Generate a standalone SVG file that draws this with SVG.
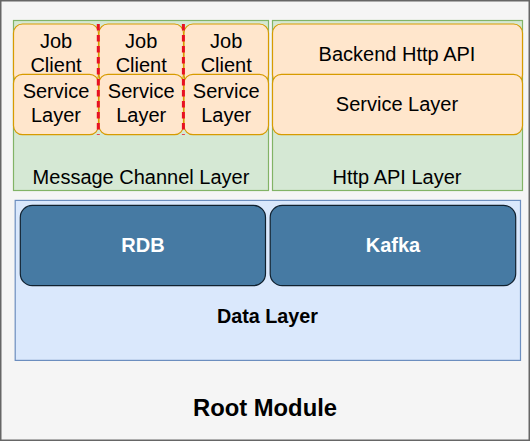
<svg xmlns="http://www.w3.org/2000/svg" width="531" height="441" viewBox="0 0 531 441">
<style>
text{font-family:"Liberation Sans",Arial,Helvetica,sans-serif;text-anchor:middle;fill:#000}
.t{font-size:20px}
.b{font-size:19.8px;font-weight:bold}
.w{font-size:20px;font-weight:bold;fill:#fff}
.g{fill:#d5e8d4;stroke:#82b366;stroke-width:1.2}
.o{fill:#ffe6cc;stroke:#d79b00;stroke-width:1.2}
.bl{fill:#dae8fc;stroke:#6c8ebf;stroke-width:1.2}
.db{fill:#467aa3;stroke:#10212f;stroke-width:1.2}
.red{stroke:#e81123;stroke-width:3;stroke-dasharray:6.5 4.5;fill:none}
</style>
<g id="root">
<rect x="0.75" y="0.75" width="528.5" height="439.5" fill="#f5f5f5" stroke="#666" stroke-width="1.5"/>
<text class="b" x="265" y="415.5" style="font-size:23.8px">Root Module</text>
</g>
<g id="message-channel-layer">
<rect class="g" x="13.5" y="20.5" width="255" height="170"/>
<text class="t" x="141" y="184.3">Message Channel Layer</text>
</g>
<g id="http-api-layer">
<rect class="g" x="272.5" y="20.5" width="250" height="170"/>
<text class="t" x="397" y="184">Http API Layer</text>
</g>
<g id="job-client-1">
<rect class="o" x="13.5" y="24" width="85" height="60" rx="9"/>
<text class="t" x="56" y="48.3">Job</text>
<text class="t" x="56" y="72.3">Client</text>
</g>
<g id="job-client-2">
<rect class="o" x="99" y="24" width="84.5" height="60" rx="9"/>
<text class="t" x="141.2" y="48.3">Job</text>
<text class="t" x="141.2" y="72.3">Client</text>
</g>
<g id="job-client-3">
<rect class="o" x="184" y="24" width="84.5" height="60" rx="9"/>
<text class="t" x="226.2" y="48.3">Job</text>
<text class="t" x="226.2" y="72.3">Client</text>
</g>
<g id="service-layer-1">
<rect class="o" x="13.5" y="74.3" width="85" height="60.4" rx="9"/>
<text class="t" x="56" y="98.3">Service</text>
<text class="t" x="56" y="122.3">Layer</text>
</g>
<g id="service-layer-2">
<rect class="o" x="99" y="74.3" width="84.5" height="60.4" rx="9"/>
<text class="t" x="141.2" y="98.3">Service</text>
<text class="t" x="141.2" y="122.3">Layer</text>
</g>
<g id="service-layer-3">
<rect class="o" x="184" y="74.3" width="84.5" height="60.4" rx="9"/>
<text class="t" x="226.2" y="98.3">Service</text>
<text class="t" x="226.2" y="122.3">Layer</text>
</g>
<g id="backend-http-api">
<rect class="o" x="272.5" y="24" width="250" height="60" rx="9"/>
<text class="t" x="397" y="61">Backend Http API</text>
</g>
<g id="http-service-layer">
<rect class="o" x="272.5" y="74.3" width="250" height="60.4" rx="9"/>
<text class="t" x="397" y="111">Service Layer</text>
</g>
<g id="connectors">
<line class="red" x1="98.3" y1="24" x2="98.3" y2="134.7"/>
<line class="red" x1="183.4" y1="24" x2="183.4" y2="134.7"/>
</g>
<g id="data-layer">
<rect class="bl" x="15.2" y="200.4" width="505.3" height="160"/>
<text class="b" x="267.5" y="322.5">Data Layer</text>
</g>
<g id="rdb">
<rect class="db" x="20.3" y="205.4" width="245.2" height="80.3" rx="12"/>
<text class="w" x="143" y="252.3">RDB</text>
</g>
<g id="kafka">
<rect class="db" x="270.2" y="205.4" width="245.5" height="80.3" rx="12"/>
<text class="w" x="393" y="252.3">Kafka</text>
</g>
</svg>
